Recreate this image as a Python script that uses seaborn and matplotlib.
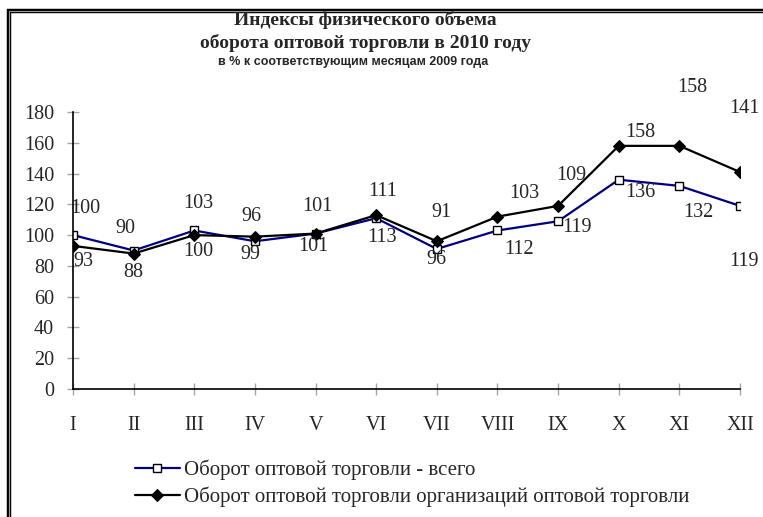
import pandas as pd
import seaborn as sns
from matplotlib import pyplot as plt
from matplotlib.lines import Line2D

# data
months = ["I", "II", "III", "IV", "V", "VI", "VII", "VIII", "IX", "X", "XI", "XII"]
total = [100, 90, 103, 96, 101, 111, 91, 103, 109, 136, 132, 119]
wholesale_orgs = [93, 88, 100, 99, 101, 113, 96, 112, 119, 158, 158, 141]
series_names = [
    "Оборот оптовой торговли - всего",
    "Оборот оптовой торговли организаций оптовой торговли",
]

# label offsets in pixels (moved by hand in the original chart)
total_offsets = [(12, 27), (-8, 22), (4, 27), (-3, 25), (2, 27), (6, 27),
                 (5, 36), (27, 37), (13, 46), (22, -13), (19, -27), (4, -56)]
orgs_offsets = [(10, -16), (0, -19), (4, -16), (-5, -18), (-2, -13), (6, -22),
                (0, -18), (22, -33), (19, -22), (22, 13), (13, 58), (4, 64)]

sns.set_style("white")
plt.rcParams["font.family"] = ["Liberation Serif", "DejaVu Serif"]

df = pd.DataFrame({"month": months, "total": total, "orgs": wholesale_orgs})

fig = plt.figure(figsize=(7.63, 5.17), dpi=100)
ax = fig.add_axes([73 / 763, 1 - 389 / 517, (740 - 73) / 763, (389 - 112) / 517])

sns.lineplot(data=df, x="month", y="total", ax=ax, color="#000080", lw=1.6,
             marker="s", markersize=6, markerfacecolor="white",
             markeredgecolor="black", markeredgewidth=1, label=series_names[0])
sns.lineplot(data=df, x="month", y="orgs", ax=ax, color="black", lw=1.6,
             marker="D", markersize=6.5, markerfacecolor="black",
             markeredgecolor="black", label=series_names[1])

for i, (v, off) in enumerate(zip(total, total_offsets)):
    ax.annotate(str(v), xy=(i, v), xytext=off, textcoords="offset pixels",
                ha="center", va="center", fontsize=14.5)
for i, (v, off) in enumerate(zip(wholesale_orgs, orgs_offsets)):
    ax.annotate(str(v), xy=(i, v), xytext=off, textcoords="offset pixels",
                ha="center", va="center", fontsize=14.5)

ax.set_xlim(0, len(months) - 1)
ax.set_ylim(0, 180)
ax.set_yticks(range(0, 181, 20))
ax.set_xlabel("")
ax.set_ylabel("")
for s in ["top", "right"]:
    ax.spines[s].set_visible(False)
for s in ["left", "bottom"]:
    ax.spines[s].set_color("black")
    ax.spines[s].set_linewidth(1.2)
ax.tick_params(axis="both", direction="inout", length=9, width=1,
               color="#a6a6a6", labelsize=14.5, left=True, bottom=True)
ax.tick_params(axis="x", pad=15)
ax.tick_params(axis="y", pad=9)

ax.get_legend().remove()
handles, labels = ax.get_legend_handles_labels()
fig.legend(handles, labels, loc="upper left", bbox_to_anchor=(135 / 763, 1 - 460 / 517),
           frameon=False, fontsize=15, borderpad=0, borderaxespad=0,
           handlelength=2.15, handletextpad=0.22, labelspacing=0.3)

fig.text(365 / 763, 1 - 20 / 517, "Индексы физического объема", ha="center",
         va="center", fontsize=14, fontweight="bold")
fig.text(365 / 763, 1 - 43 / 517, "оборота оптовой торговли в 2010 году", ha="center",
         va="center", fontsize=14, fontweight="bold")
fig.text(353 / 763, 1 - 62 / 517, "в % к соответствующим месяцам 2009 года", ha="center",
         va="center", fontsize=9, fontweight="bold", family=["Liberation Sans", "DejaVu Sans"])

# double frame at the left and top edges
x0, y0 = 8.5 / 763, 1 - 10.5 / 517
fig.add_artist(Line2D([x0, x0, 1], [0, y0, y0], transform=fig.transFigure,
                      color="black", lw=3.2, solid_joinstyle="miter"))
fig.add_artist(Line2D([x0, x0, 1], [0, y0, y0], transform=fig.transFigure,
                      color="#9a9a9a", lw=0.8, solid_joinstyle="miter"))

plt.savefig("out.png", dpi=100)
